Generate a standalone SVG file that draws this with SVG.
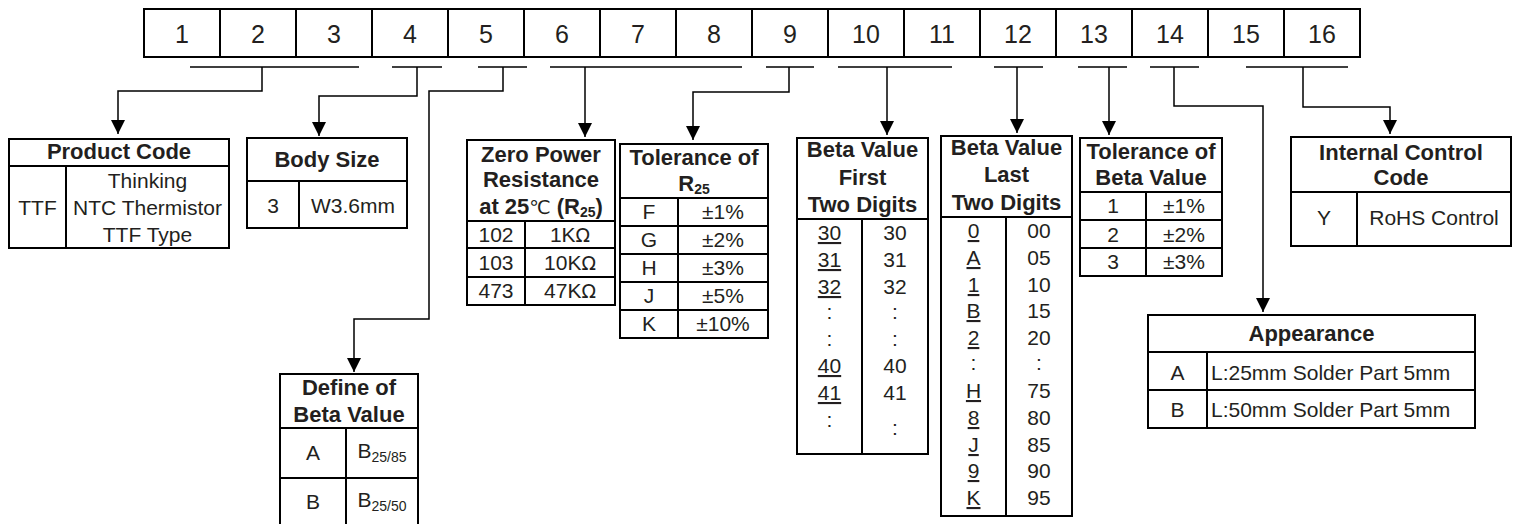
<svg xmlns="http://www.w3.org/2000/svg" width="1517" height="524" viewBox="0 0 1517 524">
<defs>
<style>
text{font-family:"Liberation Sans",Arial,sans-serif;fill:#231f20;font-size:21px;text-anchor:middle}
.h{font-weight:bold;font-size:22px}
.n{font-size:25px}
.u{text-decoration:underline}
.cjk{font-family:"DejaVu Sans","Liberation Sans",sans-serif;font-weight:normal;font-size:19px}
.b{fill:#fff;stroke:#000;stroke-width:2}
.l{stroke:#000;stroke-width:2;fill:none}
.c{stroke:#000;stroke-width:1.5;fill:none}
.sub{font-size:14px}
</style>
<marker id="ah" markerUnits="userSpaceOnUse" markerWidth="16" markerHeight="14" refX="14" refY="7" orient="auto">
<path d="M0,0 L14,7 L0,14 z" fill="#000"/>
</marker>
</defs>
<rect width="1517" height="524" fill="#fff"/>

<g id="code-row">
<rect class="b" x="144" y="9" width="1216" height="48"/>
<path class="l" d="M220 9V57M296 9V57M372 9V57M448 9V57M524 9V57M600 9V57M676 9V57M752 9V57M828 9V57M904 9V57M980 9V57M1056 9V57M1132 9V57M1208 9V57M1284 9V57"/>
<text class="n" x="182" y="43">1</text>
<text class="n" x="258" y="43">2</text>
<text class="n" x="334" y="43">3</text>
<text class="n" x="410" y="43">4</text>
<text class="n" x="486" y="43">5</text>
<text class="n" x="562" y="43">6</text>
<text class="n" x="638" y="43">7</text>
<text class="n" x="714" y="43">8</text>
<text class="n" x="790" y="43">9</text>
<text class="n" x="866" y="43">10</text>
<text class="n" x="942" y="43">11</text>
<text class="n" x="1018" y="43">12</text>
<text class="n" x="1094" y="43">13</text>
<text class="n" x="1170" y="43">14</text>
<text class="n" x="1246" y="43">15</text>
<text class="n" x="1322" y="43">16</text>
</g>

<g id="connectors">
<path class="c" d="M190 67H359M392 67H442M478 67H527M550 67H742M766 67H814M838 67H952M994 67H1043M1078 67H1127M1150 67H1199M1246 67H1348"/>
<path class="c" marker-end="url(#ah)" d="M262 67V91H118V134"/>
<path class="c" marker-end="url(#ah)" d="M417 67V96H319V136"/>
<path class="c" marker-end="url(#ah)" d="M503 67V91H429V319H354V372"/>
<path class="c" marker-end="url(#ah)" d="M585 67V137"/>
<path class="c" marker-end="url(#ah)" d="M789 67V92H693V140"/>
<path class="c" marker-end="url(#ah)" d="M887 67V135"/>
<path class="c" marker-end="url(#ah)" d="M1017 67V133"/>
<path class="c" marker-end="url(#ah)" d="M1109 67V135"/>
<path class="c" marker-end="url(#ah)" d="M1174 67V106H1263V312"/>
<path class="c" marker-end="url(#ah)" d="M1303 67V107H1390V134"/>
</g>

<g id="product-code">
<rect class="b" x="9" y="139" width="220" height="109"/>
<path class="l" d="M9 166H229M66 166V248"/>
<text class="h" x="119" y="159">Product Code</text>
<text x="37.5" y="215">TTF</text>
<text x="147.5" y="188">Thinking</text>
<text x="147.5" y="215">NTC Thermistor</text>
<text x="147.5" y="242">TTF Type</text>
</g>

<g id="body-size">
<rect class="b" x="247" y="138" width="160" height="90"/>
<path class="l" d="M247 181H407M299 181V228"/>
<text class="h" x="327" y="167">Body Size</text>
<text x="273" y="213">3</text>
<text x="353" y="213">W3.6mm</text>
</g>

<g id="define-beta">
<rect class="b" x="280" y="374" width="138" height="160"/>
<path class="l" d="M280 428H418M280 478H418M346 428V534"/>
<text class="h" x="349" y="395">Define of</text>
<text class="h" x="349" y="422">Beta Value</text>
<text x="313" y="460">A</text>
<text x="382" y="458">B<tspan class="sub" dy="4">25/85</tspan></text>
<text x="313" y="509">B</text>
<text x="382" y="507">B<tspan class="sub" dy="4">25/50</tspan></text>
</g>

<g id="zero-power">
<rect class="b" x="467" y="140" width="148" height="165"/>
<path class="l" d="M467 221H615M467 248H615M467 277H615M525 221V305"/>
<text class="h" x="541" y="162">Zero Power</text>
<text class="h" x="541" y="187">Resistance</text>
<text class="h" x="541" y="214">at 25<tspan class="cjk">℃</tspan><tspan dx="6">(R</tspan><tspan class="sub" dy="3">25</tspan><tspan dy="-3">)</tspan></text>
<text x="496" y="242">102</text>
<text x="496" y="270">103</text>
<text x="496" y="298">473</text>
<text x="570" y="242">1K<tspan class="cjk">Ω</tspan></text>
<text x="570" y="270">10K<tspan class="cjk">Ω</tspan></text>
<text x="570" y="298">47K<tspan class="cjk">Ω</tspan></text>
</g>

<g id="tolerance-r25">
<rect class="b" x="620" y="144" width="148" height="194"/>
<path class="l" d="M620 198H768M620 226H768M620 254H768M620 282H768M620 310H768M678 198V338"/>
<text class="h" x="694" y="165">Tolerance of</text>
<text class="h" x="694" y="191">R<tspan class="sub" dy="3">25</tspan></text>
<text x="649" y="219">F</text><text x="723" y="219">±1%</text>
<text x="649" y="247">G</text><text x="723" y="247">±2%</text>
<text x="649" y="275">H</text><text x="723" y="275">±3%</text>
<text x="649" y="303">J</text><text x="723" y="303">±5%</text>
<text x="649" y="331">K</text><text x="723" y="331">±10%</text>
</g>

<g id="beta-first">
<rect class="b" x="797" y="138" width="131" height="316"/>
<path class="l" d="M797 219H928M862 219V454"/>
<text class="h" x="862.5" y="157">Beta Value</text>
<text class="h" x="862.5" y="185">First</text>
<text class="h" x="862.5" y="212">Two Digits</text>
<text class="u" x="829.5" y="240">30</text><text x="895" y="240">30</text>
<text class="u" x="829.5" y="267">31</text><text x="895" y="267">31</text>
<text class="u" x="829.5" y="294">32</text><text x="895" y="294">32</text>
<text x="829.5" y="319">:</text><text x="895" y="319">:</text>
<text x="829.5" y="346">:</text><text x="895" y="346">:</text>
<text class="u" x="829.5" y="373">40</text><text x="895" y="373">40</text>
<text class="u" x="829.5" y="400">41</text><text x="895" y="400">41</text>
<text x="829.5" y="427">:</text><text x="895" y="435">:</text>
</g>

<g id="beta-last">
<rect class="b" x="941" y="136" width="131" height="380"/>
<path class="l" d="M941 217H1072M1006 217V516"/>
<text class="h" x="1006.5" y="155">Beta Value</text>
<text class="h" x="1006.5" y="182">Last</text>
<text class="h" x="1006.5" y="210">Two Digits</text>
<text class="u" x="973.5" y="238">0</text><text x="1039" y="238">00</text>
<text class="u" x="973.5" y="265">A</text><text x="1039" y="265">05</text>
<text class="u" x="973.5" y="292">1</text><text x="1039" y="292">10</text>
<text class="u" x="973.5" y="318">B</text><text x="1039" y="318">15</text>
<text class="u" x="973.5" y="345">2</text><text x="1039" y="345">20</text>
<text x="973.5" y="370">:</text><text x="1039" y="370">:</text>
<text class="u" x="973.5" y="398">H</text><text x="1039" y="398">75</text>
<text class="u" x="973.5" y="425">8</text><text x="1039" y="425">80</text>
<text class="u" x="973.5" y="452">J</text><text x="1039" y="452">85</text>
<text class="u" x="973.5" y="478">9</text><text x="1039" y="478">90</text>
<text class="u" x="973.5" y="505">K</text><text x="1039" y="505">95</text>
</g>

<g id="tolerance-beta">
<rect class="b" x="1080" y="138" width="142" height="138"/>
<path class="l" d="M1080 192H1222M1080 220H1222M1080 248H1222M1146 192V276"/>
<text class="h" x="1151" y="159">Tolerance of</text>
<text class="h" x="1151" y="185">Beta Value</text>
<text x="1113" y="213">1</text><text x="1184" y="213">±1%</text>
<text x="1113" y="242">2</text><text x="1184" y="242">±2%</text>
<text x="1113" y="269">3</text><text x="1184" y="269">±3%</text>
</g>

<g id="appearance">
<rect class="b" x="1148" y="315" width="327" height="113"/>
<path class="l" d="M1148 352H1475M1148 390H1475M1207 352V428"/>
<text class="h" x="1311.5" y="341">Appearance</text>
<text x="1177.5" y="380">A</text>
<text x="1177.5" y="417">B</text>
<text x="1211" y="380" style="text-anchor:start">L:25mm Solder Part 5mm</text>
<text x="1211" y="417" style="text-anchor:start">L:50mm Solder Part 5mm</text>
</g>

<g id="internal-control">
<rect class="b" x="1291" y="137" width="220" height="109"/>
<path class="l" d="M1291 192H1511M1357 192V246"/>
<text class="h" x="1401" y="160">Internal Control</text>
<text class="h" x="1401" y="185">Code</text>
<text x="1324" y="225">Y</text>
<text x="1434" y="225">RoHS Control</text>
</g>
</svg>
